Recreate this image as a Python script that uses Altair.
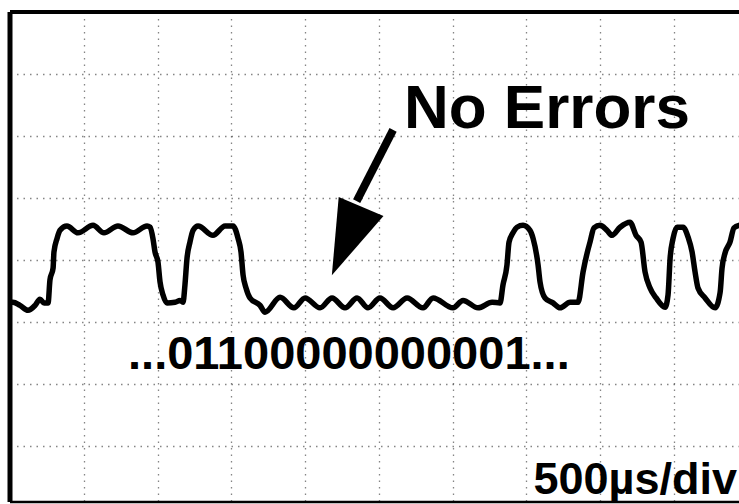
import altair as alt
import pandas as pd

# Oscilloscope trace: time in microseconds (500 us/div), amplitude in divisions
time_us = [0, 20, 68, 122, 170, 203, 231, 258, 271, 292, 298, 319, 339,
           386, 461, 563, 637, 732, 834, 929,
           949, 969, 983, 1003, 1017, 1037, 1064,
           1119, 1153, 1173,
           1186, 1200, 1220, 1241, 1275,
           1376, 1458, 1512,
           1546, 1566, 1580, 1600, 1627,
           1695, 1729, 1831, 1925, 2000, 2102, 2183, 2271, 2353, 2427, 2508,
           2597, 2692, 2800, 2868, 3003, 3071, 3173, 3268, 3322,
           3342, 3369, 3383, 3410, 3437, 3478,
           3525, 3546, 3580, 3593, 3627, 3681, 3729, 3797, 3851,
           3885, 3912, 3932, 3959, 4000,
           4047, 4081, 4136, 4203,
           4244, 4278, 4305, 4339, 4380, 4441,
           4461, 4475, 4495, 4522, 4563,
           4597, 4624, 4644, 4664, 4712, 4780,
           4814, 4827, 4847, 4881, 4908, 4942]
level_div = [-0.68, -0.68, -0.73, -0.81, -0.73, -0.63, -0.69, -0.69, -0.32, -0.13, 0.13, 0.35, 0.48,
             0.55, 0.44, 0.56, 0.44, 0.55, 0.44, 0.55,
             0.53, 0.35, 0.13, -0.03, -0.35, -0.56, -0.69,
             -0.68, -0.65, -0.68,
             -0.40, 0.03, 0.29, 0.48, 0.55,
             0.40, 0.55, 0.55,
             0.35, 0.13, -0.24, -0.45, -0.61,
             -0.73, -0.84, -0.60, -0.77, -0.61, -0.77, -0.61, -0.77, -0.61, -0.77, -0.61,
             -0.77, -0.61, -0.77, -0.61, -0.77, -0.65, -0.77, -0.68, -0.69,
             -0.40, -0.08, 0.29, 0.44, 0.53, 0.56,
             0.48, 0.35, -0.08, -0.35, -0.61, -0.69, -0.77, -0.68, -0.68,
             -0.19, 0.11, 0.29, 0.52, 0.56,
             0.48, 0.40, 0.53, 0.61,
             0.40, 0.29, -0.19, -0.45, -0.61, -0.76,
             -0.56, 0.03, 0.35, 0.53, 0.53,
             0.37, 0.13, -0.19, -0.45, -0.61, -0.77,
             -0.52, -0.13, 0.11, 0.29, 0.52, 0.56]

# graticule divisions
x_grid = [500, 1000, 1500, 2000, 2500, 3000, 3500, 4000, 4500]
y_grid = [-3, -2, -1, 0, 1, 2, 3]
x_domain = [0, 4942]
y_domain = [-3.9, 4]

# annotations
label_text = ["No Errors", "...01100000000001...", "500\u00b5s/div"]
label_x = [2671, 800, 4929]
label_y = [2.13, -1.76, -3.77]
label_size = [62, 47, 45]
label_align = ["left", "left", "right"]

arrow_shaft_x = [2350, 2597]
arrow_shaft_y = [0.95, 2.10]
arrow_head_x = [2281]
arrow_head_y = [0.31]

FONT = "Liberation Sans"

wave_df = pd.DataFrame({"t": time_us, "v": level_div})
xs = alt.Scale(domain=x_domain, nice=False, zero=False)
ys = alt.Scale(domain=y_domain, nice=False, zero=False)

x_axis = alt.Axis(values=x_grid, grid=True, labels=False, ticks=False, domain=False,
                  title=None, gridDash=[1.5, 5], gridColor="#333", gridWidth=1.3, gridOpacity=0.6)
y_axis = alt.Axis(values=y_grid, grid=True, labels=False, ticks=False, domain=False,
                  title=None, gridDash=[1.5, 5], gridColor="#333", gridWidth=1.3, gridOpacity=0.6)

wave = alt.Chart(wave_df).mark_line(color="black", strokeWidth=5.5, strokeJoin="round",
                                    strokeCap="round", interpolate="monotone", clip=True).encode(
    x=alt.X("t:Q", scale=xs, axis=x_axis),
    y=alt.Y("v:Q", scale=ys, axis=y_axis),
    order="t:Q",
)

frame_left = alt.Chart().mark_rule(color="black", strokeWidth=5).encode(x=alt.datum(x_domain[0], scale=xs))
frame_top = alt.Chart().mark_rule(color="black", strokeWidth=4).encode(y=alt.datum(y_domain[1]))
frame_bottom = alt.Chart().mark_rule(color="black", strokeWidth=2.5).encode(y=alt.datum(y_domain[0]))

layers = [wave, frame_left, frame_top, frame_bottom]

for txt, tx, ty, sz, al in zip(label_text, label_x, label_y, label_size, label_align):
    df = pd.DataFrame({"t": [tx], "v": [ty], "s": [txt]})
    layers.append(
        alt.Chart(df).mark_text(font=FONT, fontWeight="bold", fontSize=sz, align=al,
                                baseline="alphabetic", color="black").encode(
            x=alt.X("t:Q", scale=xs), y=alt.Y("v:Q", scale=ys), text="s:N")
    )

shaft_df = pd.DataFrame({"t": arrow_shaft_x, "v": arrow_shaft_y})
layers.append(
    alt.Chart(shaft_df).mark_line(color="black", strokeWidth=8, strokeCap="butt").encode(
        x=alt.X("t:Q", scale=xs), y=alt.Y("v:Q", scale=ys))
)
head_df = pd.DataFrame({"t": arrow_head_x, "v": arrow_head_y})
layers.append(
    alt.Chart(head_df).mark_point(shape="M0,1L-0.65,-1L0.65,-1Z", filled=True, color="black",
                                  opacity=1, size=5600, angle=23).encode(
        x=alt.X("t:Q", scale=xs), y=alt.Y("v:Q", scale=ys))
)

chart = alt.layer(*layers).properties(
    width=729, height=490,
    padding={"left": 10, "top": 12, "right": 0, "bottom": 2},
    autosize=alt.AutoSizeParams(type="none"),
    background="white",
).configure_view(stroke=None)

chart.save("out.html", embed_options={"renderer": "svg", "actions": False})
